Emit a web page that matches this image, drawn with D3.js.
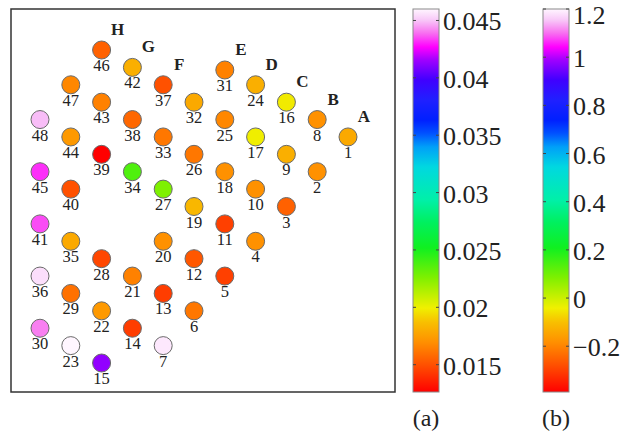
<!DOCTYPE html>
<html>
<head>
<meta charset="utf-8">
<script src="https://cdn.jsdelivr.net/npm/d3@7"></script>
<style>
  body { margin: 0; background: #fff; }
  text { font-family: "Liberation Serif", "Times New Roman", serif; fill: #222; }
</style>
</head>
<body>
<svg id="chart" width="625" height="435"></svg>
<script>
// Sensor numbering, grouped by line A..H
const sensorIds = [
  1, 2, 3, 4, 5, 6, 7,
  8, 9, 10, 11, 12, 13, 14, 15,
  16, 17, 18, 19, 20, 21, 22, 23,
  24, 25, 26, 27, 28, 29, 30,
  31, 32, 33, 34, 35, 36,
  37, 38, 39, 40, 41,
  42, 43, 44, 45,
  46, 47, 48
];
// Grid position of each sensor (column across, half-row down)
const sensorCol = [
  10, 9, 8, 7, 6, 5, 4,
  9, 8, 7, 6, 5, 4, 3, 2,
  8, 7, 6, 5, 4, 3, 2, 1,
  7, 6, 5, 4, 2, 1, 0,
  6, 5, 4, 3, 1, 0,
  4, 3, 2, 1, 0,
  3, 2, 1, 0,
  2, 1, 0
];
const sensorRow = [
  5, 7, 9, 11, 13, 15, 17,
  4, 6, 8, 10, 12, 14, 16, 18,
  3, 5, 7, 9, 11, 13, 15, 17,
  2, 4, 6, 8, 12, 14, 16,
  1.15, 3, 5, 7, 11, 13,
  2, 4, 6, 8, 10,
  1, 3, 5, 7,
  0, 2, 4
];
// Measured value at each sensor (scale a)
const sensorValue = [
  0.0179, 0.0170, 0.0155, 0.0170, 0.0145, 0.0162, 0.0457,
  0.0170, 0.0181, 0.0170, 0.0145, 0.0152, 0.0144, 0.0144, 0.0413,
  0.0198, 0.0199, 0.0170, 0.0184, 0.0170, 0.0165, 0.0173, 0.0460,
  0.0181, 0.0167, 0.0162, 0.0226, 0.0147, 0.0160, 0.0441,
  0.0165, 0.0179, 0.0162, 0.0237, 0.0179, 0.0455,
  0.0150, 0.0157, 0.0126, 0.0150, 0.0435,
  0.0181, 0.0165, 0.0173, 0.0432,
  0.0155, 0.0167, 0.0449
];
// Line names and the sensor that starts each line
const lineNames = ["A", "B", "C", "D", "E", "F", "G", "H"];
const lineFirstSensor = [1, 8, 16, 24, 31, 37, 42, 46];

// Colour bar ranges and ticks
const domainA = [0.01262, 0.046];
const ticksA = [0.015, 0.02, 0.025, 0.03, 0.035, 0.04, 0.045];
const domainB = [-0.39, 1.2];
const ticksB = [-0.2, 0, 0.2, 0.4, 0.6, 0.8, 1, 1.2];
const panelLabels = ["(a)", "(b)"];

// Colormap: red -> yellow -> green -> cyan -> blue -> magenta -> white
const cmapPos = [0, 0.0705, 0.1305, 0.1828, 0.2193, 0.2533, 0.2977, 0.376, 0.4439,
  0.5013, 0.5875, 0.6397, 0.6762, 0.7102, 0.7624, 0.8146, 0.8668, 0.9008, 0.9373, 0.9713, 1];
const cmapColors = ["#ff0000", "#ff5000", "#ff9000", "#f8c000", "#f0f000", "#c0f000", "#80f000",
  "#10f020", "#00f060", "#00f0a8", "#00d8e0", "#00a0f8", "#0050ff", "#0020ff", "#2020ff",
  "#4000ff", "#a000ff", "#ff00ff", "#f870f0", "#f8c8f8", "#fff6ff"];

const svg = d3.select("#chart");

// ---- sensor map ----
const plot = { x0: 11, y0: 9, x1: 395, y1: 392 };
const x = d3.scaleLinear().domain([0, 10]).range([40, 348]);
const y = d3.scaleLinear().domain([0, 18]).range([50, 363]);
const cmapA = d3.scaleLinear()
  .domain(cmapPos.map(t => domainA[0] + t * (domainA[1] - domainA[0])))
  .range(cmapColors).interpolate(d3.interpolateRgb).clamp(true);

svg.append("rect")
  .attr("x", plot.x0).attr("y", plot.y0)
  .attr("width", plot.x1 - plot.x0).attr("height", plot.y1 - plot.y0)
  .attr("fill", "#fff").attr("stroke", "#333").attr("stroke-width", 1.5);

const sensors = sensorIds.map((id, i) => ({
  id, col: sensorCol[i], row: sensorRow[i], value: sensorValue[i]
}));

const g = svg.append("g");
g.selectAll("circle.sensor").data(sensors).join("circle")
  .attr("class", "sensor")
  .attr("cx", d => x(d.col)).attr("cy", d => y(d.row)).attr("r", 9)
  .attr("fill", d => cmapA(d.value))
  .attr("stroke", "#6a6a6a").attr("stroke-width", 1);

g.selectAll("text.num").data(sensors).join("text")
  .attr("class", "num")
  .attr("x", d => x(d.col)).attr("y", d => y(d.row) + 21)
  .attr("text-anchor", "middle").attr("font-size", 16.5)
  .text(d => d.id);

g.selectAll("text.line").data(lineNames).join("text")
  .attr("class", "line")
  .attr("x", (d, i) => x(sensors[lineFirstSensor[i] - 1].col) + 16)
  .attr("y", (d, i) => y(sensors[lineFirstSensor[i] - 1].row) - 15)
  .attr("text-anchor", "middle").attr("font-size", 17).attr("font-weight", "bold")
  .text(d => d);

// ---- colour bars ----
const defs = svg.append("defs");
const grad = defs.append("linearGradient").attr("id", "cmap")
  .attr("x1", 0).attr("y1", 1).attr("x2", 0).attr("y2", 0);
grad.selectAll("stop").data(cmapPos).join("stop")
  .attr("offset", d => d).attr("stop-color", (d, i) => cmapColors[i]);

function colorBar(x0, domain, ticks, label) {
  const w = 26, top = 9, bottom = 392;
  const s = d3.scaleLinear().domain(domain).range([bottom, top]);
  const cb = svg.append("g");
  cb.append("rect").attr("x", x0).attr("y", top).attr("width", w).attr("height", bottom - top)
    .attr("fill", "url(#cmap)").attr("stroke", "#8a8a8a").attr("stroke-width", 1);
  const t = cb.selectAll("g.tick").data(ticks).join("g").attr("class", "tick")
    .attr("transform", d => `translate(0,${s(d)})`);
  t.append("line").attr("x1", x0).attr("x2", x0 + 3).attr("stroke", "#444");
  t.append("line").attr("x1", x0 + w - 3).attr("x2", x0 + w).attr("stroke", "#444");
  // keep the topmost label inside the page
  t.append("text").attr("x", x0 + w + 4)
    .attr("y", d => Math.max(s(d) + 10, 23.5) - s(d))
    .attr("font-size", 26)
    .text(d => d3.format("~g")(d));
  cb.append("text").attr("x", x0 + w / 2).attr("y", 426).attr("text-anchor", "middle")
    .attr("font-size", 24).text(label);
}
colorBar(413, domainA, ticksA, panelLabels[0]);
colorBar(543, domainB, ticksB, panelLabels[1]);
</script>
</body>
</html>
